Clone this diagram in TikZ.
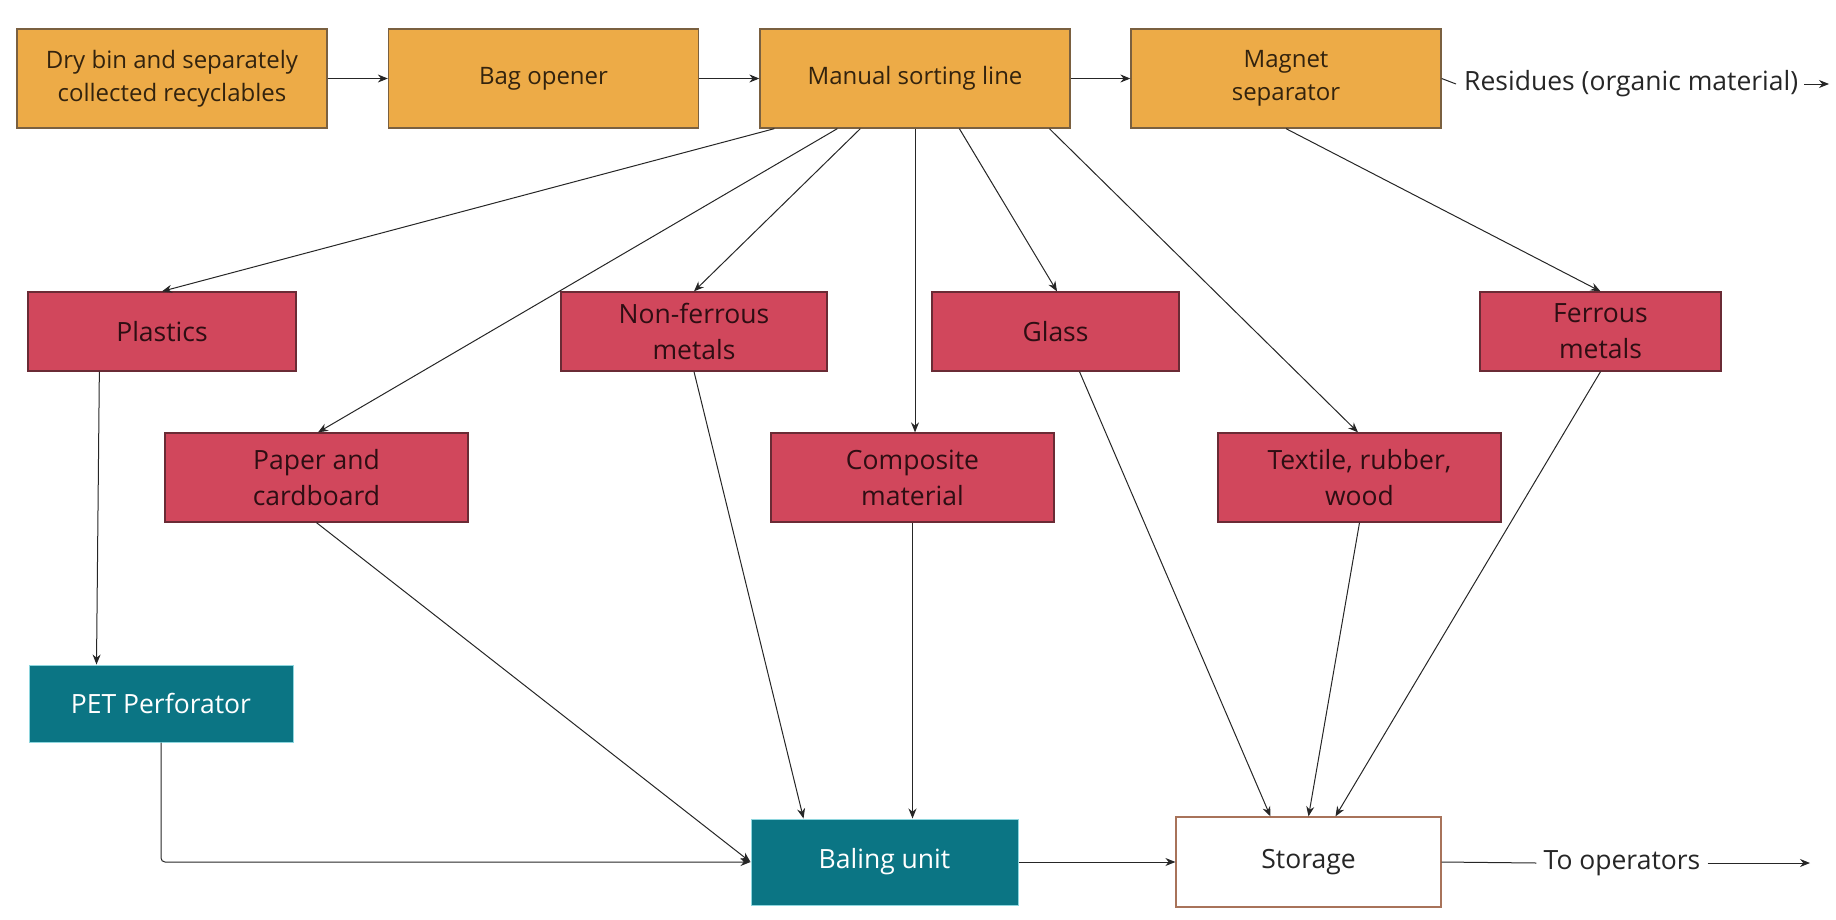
\documentclass[tikz,border=0pt]{standalone}
\usepackage{fontspec}
\setmainfont{Open Sans}
\usetikzlibrary{arrows.meta,positioning}

\definecolor{boxorange}{HTML}{EDAB47}
\definecolor{lineorange}{HTML}{7A6040}
\definecolor{boxred}{HTML}{D1475C}
\definecolor{linered}{HTML}{6A2B35}
\definecolor{boxteal}{HTML}{0B7584}
\definecolor{lineteal}{HTML}{8ED6DE}
\definecolor{linestore}{HTML}{A8735A}
\definecolor{txtorange}{HTML}{33230E}
\definecolor{txtred}{HTML}{2E0E13}

\tikzset{
  stage/.style={rectangle, draw=lineorange, fill=boxorange, line width=1.3pt,
    text=txtorange, align=center, minimum width=310pt, minimum height=99pt},
  fraction/.style={rectangle, draw=linered, fill=boxred, line width=1.3pt,
    text=txtred, align=center, font=\fontsize{26.5}{36}\selectfont},
  machine/.style={rectangle, draw=lineteal, fill=boxteal, line width=1pt,
    text=white, align=center, font=\fontsize{26.5}{36}\selectfont},
  flow/.style={-{Stealth[length=10pt,width=8pt]}, line width=1pt, draw=black!85},
  outlabel/.style={inner sep=0pt, font=\fontsize{26.5}{32}\selectfont, text=black!85},
}

\begin{document}
\begin{tikzpicture}[x=1pt, y=-1pt, font=\fontsize{24}{33}\selectfont]
      \useasboundingbox (0,0) rectangle (1836,919);
      \begin{scope}[every node/.style={stage}]
        \node (dry) at (172,78.5) {Dry bin and separately\\collected recyclables};
        \node (bag) at (543.5,78.5) {Bag opener};
        \node (sort) at (915,78.5) {Manual sorting line};
        \node (magnet) at (1286,78.5) {Magnet\\separator};
      \end{scope}
      \begin{scope}[every node/.style={fraction, minimum height=79pt}]
        \node (plastics) [minimum width=268pt] at (162,331.5) {Plastics};
        \node (nonferrous) [minimum width=266pt] at (694,331.5) {Non-ferrous\\metals};
        \node (glass) [minimum width=247pt] at (1055.5,331.5) {Glass};
        \node (ferrous) [minimum width=241pt] at (1600.5,331.5) {Ferrous\\metals};
      \end{scope}
      \begin{scope}[every node/.style={fraction, minimum height=89pt}]
        \node (paper) [minimum width=303pt] at (316.5,477.5) {Paper and\\cardboard};
        \node (composite) [minimum width=283pt] at (912.5,477.5) {Composite\\material};
        \node (textile) [minimum width=283pt] at (1359.5,477.5) {Textile, rubber,\\wood};
      \end{scope}
      \node (pet) [machine, minimum width=264pt, minimum height=77pt] at (161,703.5) {PET Perforator};
      \node (baling) [machine, minimum width=267pt, minimum height=86pt] at (884.5,862) {Baling unit};
      \node (storage) [rectangle, draw=linestore, fill=white, line width=1.2pt, text=black!85,
        font=\fontsize{26.5}{36}\selectfont,
        minimum width=265pt, minimum height=90pt] at (1308.5,862) {Storage};
      \node (residues) [outlabel, anchor=west] at (1464,84) {Residues (organic material)};
      \node (operators) [outlabel] at (1622,863) {To operators};
      \coordinate (resend) at (1829,84);
      \coordinate (opend) at (1810,863);

      \begin{scope}[every edge/.style={draw, flow}]
        \path (dry) edge (bag);
        \path (bag) edge (sort);
        \path (sort) edge (magnet);
        \path ([xshift=15pt]sort.south west) edge (plastics.north);
        \path ([xshift=78pt]sort.south west) edge ([xshift=1.5pt]paper.north);
        \path ([xshift=101pt]sort.south west) edge (nonferrous.north);
        \path (sort.south) edge (sort.south |- composite.north);
        \path ([xshift=200pt]sort.south west) edge ([xshift=1.5pt]glass.north);
        \path ([xshift=290pt]sort.south west) edge ([xshift=-1.5pt]textile.north);
        \path (magnet.south) edge (ferrous.north);
        \path ([xshift=72pt]plastics.south west) edge ([xshift=68pt]pet.north west);
        \draw[flow, rounded corners=4pt] (pet.south) |- (baling.west);
        \path (paper.south) edge (baling.west);
        \path (nonferrous.south) edge ([xshift=53pt]baling.north west);
        \path (composite.south) edge (composite.south |- baling.north);
        \path (baling) edge (storage);
        \path ([xshift=24pt]glass.south) edge ([xshift=95pt]storage.north west);
        \path (textile.south) edge (storage.north);
        \path (ferrous.south) edge ([xshift=27pt]storage.north);
        \draw[flow, -] (magnet.east) -- ([xshift=-8pt]residues.west);
        \path ([xshift=6pt]residues.east) edge (resend);
        \draw[flow, -] (storage.east) -- ([xshift=-7pt]operators.west);
        \path ([xshift=7pt]operators.east) edge (opend);
      \end{scope}
    \end{tikzpicture}
\end{document}
